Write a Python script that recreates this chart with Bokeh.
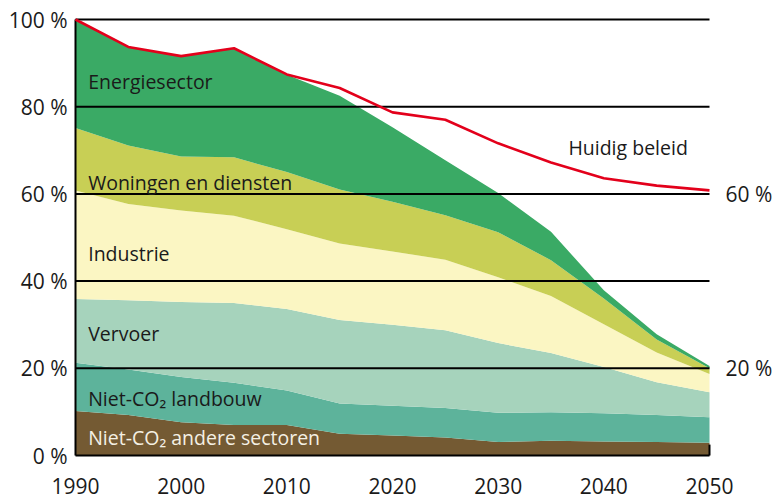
from bokeh.plotting import figure
from bokeh.models import ColumnDataSource, Range1d, Label
from bokeh.core.properties import value
from bokeh.embed import file_html
from bokeh.resources import INLINE

# ---- data, in % of 1990 emissions ----
years = [1990, 1995, 2000, 2005, 2010, 2015, 2020, 2025, 2030, 2035, 2040, 2045, 2050]
andere_sectoren = [10.2, 9.3, 7.6, 7.0, 7.0, 5.0, 4.6, 4.1, 3.1, 3.4, 3.2, 3.1, 2.9]
landbouw = [11.1, 10.4, 10.4, 9.7, 7.9, 6.9, 6.8, 6.8, 6.7, 6.5, 6.5, 6.2, 5.9]
vervoer = [14.6, 15.9, 17.2, 18.3, 18.7, 19.2, 18.6, 17.8, 16.0, 13.6, 10.6, 7.5, 5.7]
industrie = [24.9, 22.1, 21.0, 20.0, 18.3, 17.5, 16.8, 16.2, 15.1, 13.1, 9.8, 6.8, 4.2]
woningen = [14.3, 13.4, 12.4, 13.4, 13.1, 12.4, 11.4, 10.2, 10.3, 8.2, 5.9, 3.0, 1.3]
energie = [24.9, 22.6, 23.0, 25.0, 22.3, 21.5, 17.1, 12.6, 9.0, 6.5, 1.9, 1.2, 0.5]
huidig_beleid = [100.0, 93.7, 91.6, 93.4, 87.4, 84.3, 78.7, 77.0, 71.6, 67.2, 63.6, 61.9, 60.8]

sector_keys = ["andere", "landbouw", "vervoer", "industrie", "woningen", "energie"]
sector_colors = ["#745a33", "#5db39b", "#a6d3bc", "#fbf6c3", "#c8cf55", "#3aaa65"]

y_ticks = [0, 20, 40, 60, 80, 100]
grid_ticks = [20, 40, 60, 80, 100]
x_ticks = [1990, 2000, 2010, 2020, 2030, 2040, 2050]
right_ticks = [20, 60]

FONT = "Open Sans"
TXT = "#1a1a1a"

src = ColumnDataSource(dict(
    year=years, andere=andere_sectoren, landbouw=landbouw, vervoer=vervoer,
    industrie=industrie, woningen=woningen, energie=energie, beleid=huidig_beleid,
))

# layout in pixels: plot area 75..709 horizontally, 100 % at y=19, 0 % at y=455
W, H = 777, 501
L, R, T100, B0 = 75, 709, 19, 455
px_x = (years[-1] - years[0]) / (R - L)
px_y = 100.0 / (B0 - T100)
x0 = years[0] - L * px_x
x1 = years[-1] + (W - R) * px_x
y0 = -(H - B0) * px_y
y1 = 100 + T100 * px_y

p = figure(width=W, height=H, output_backend="svg", toolbar_location=None,
           x_range=Range1d(x0, x1), y_range=Range1d(y0, y1),
           x_axis_type=None, y_axis_type=None,
           min_border_left=0, min_border_right=0, min_border_top=0, min_border_bottom=0)
p.outline_line_color = None
p.grid.visible = False
p.background_fill_color = "white"
p.border_fill_color = "white"

p.varea_stack(stackers=sector_keys, x="year", color=sector_colors, source=src)

# horizontal gridlines over the areas
n = len(grid_ticks)
p.segment(x0=[years[0]] * n, y0=grid_ticks, x1=[years[-1]] * n, y1=grid_ticks,
          line_color="black", line_width=2)
# axis lines and small closing tick
p.segment(x0=[years[0], years[0], years[-1]], y0=[0, 0, 0],
          x1=[years[0], years[-1], years[-1]], y1=[100, 0, 2.5],
          line_color="black", line_width=2)

p.line("year", "beleid", source=src, line_color="#e3001b", line_width=2.6)

# tick labels
tick_font = value("21px")
p.text(x=[years[0] - 8 * px_x] * len(y_ticks), y=y_ticks, text=[f"{t} %" for t in y_ticks],
       text_align="right", text_baseline="middle", text_font=value(FONT),
       text_font_size=tick_font, text_color=TXT)
p.text(x=[years[-1] + 16 * px_x] * len(right_ticks), y=right_ticks,
       text=[f"{t} %" for t in right_ticks],
       text_align="left", text_baseline="middle", text_font=value(FONT),
       text_font_size=tick_font, text_color=TXT)
p.text(x=x_ticks, y=[-30 * px_y] * len(x_ticks), text=[str(t) for t in x_ticks],
       text_align="center", text_baseline="middle", text_font=value(FONT),
       text_font_size=tick_font, text_color=TXT)

labels = [
    ("Energiesector", 1991.2, 85.8, TXT),
    ("Woningen en diensten", 1991.2, 62.6, TXT),
    ("Industrie", 1991.2, 46.3, TXT),
    ("Vervoer", 1991.2, 28.0, TXT),
    ("Niet-CO\u2082 landbouw", 1991.2, 13.1, TXT),
    ("Niet-CO\u2082 andere sectoren", 1991.2, 4.1, "#f4f0e4"),
    ("Huidig beleid", 2036.65, 70.6, TXT),
]
for text, x, y, c in labels:
    p.add_layout(Label(x=x, y=y, text=text, text_baseline="middle", text_align="left",
                       text_font=FONT, text_font_size="19.5px", text_color=c))

open("out.html", "w").write(file_html(p, INLINE))
